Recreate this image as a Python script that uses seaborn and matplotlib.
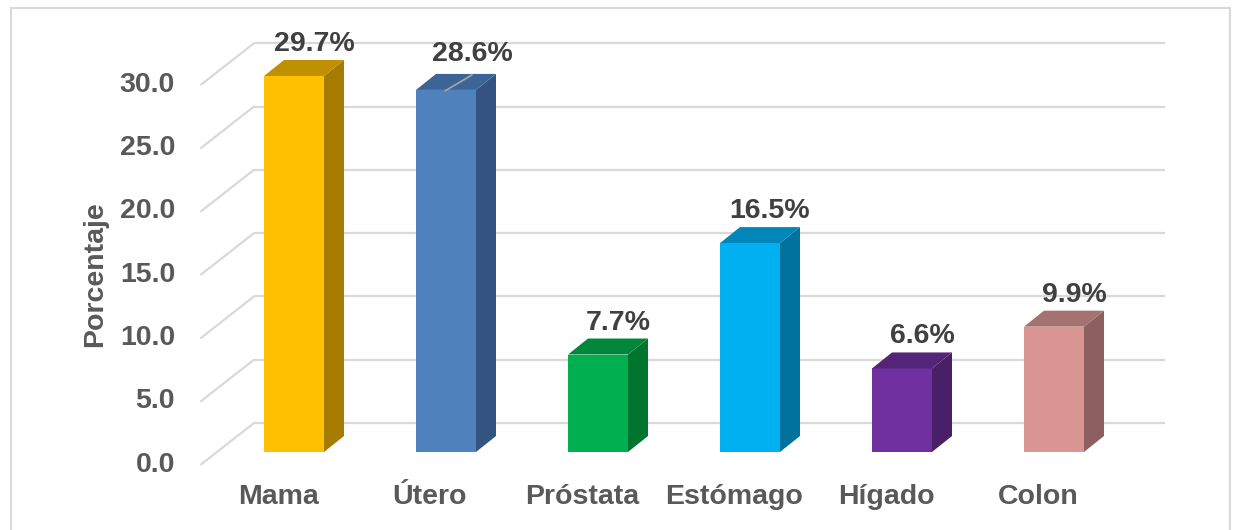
import matplotlib
matplotlib.use("Agg")
import matplotlib.pyplot as plt
from matplotlib.patches import Polygon, Rectangle
import seaborn as sns

# Cancer share by site (percent)
categories = ["Mama", "Útero", "Próstata", "Estómago", "Hígado", "Colon"]
values = [29.7, 28.6, 7.7, 16.5, 6.6, 9.9]
labels = ["29.7%", "28.6%", "7.7%", "16.5%", "6.6%", "9.9%"]
yticks = [0, 5, 10, 15, 20, 25, 30]
ytick_labels = ["0.0", "5.0", "10.0", "15.0", "20.0", "25.0", "30.0"]

front_colors = ["#FFC000", "#4F81BD", "#00B050", "#00B0F0", "#7030A0", "#D99594"]
side_colors = ["#A67C00", "#335480", "#007530", "#00729C", "#492068", "#8D605F"]
top_colors = ["#C09000", "#3C6496", "#00873A", "#0086B8", "#542479", "#A67270"]

W, H = 1234, 530
sns.set_theme(style="white")
plt.rcParams["font.family"] = ["Liberation Sans", "DejaVu Sans"]

fig = plt.figure(figsize=(W / 100, H / 100), dpi=100)
ax = fig.add_axes([0, 0, 1, 1])

# pixel layout of the bar front plane
x0_px, step_px = 294, 152
base_px, unit_px = 452, 12.66
ux = 1 / step_px      # data units per horizontal pixel
uy = 1 / unit_px      # data units per vertical pixel
ax.set_xlim(-x0_px / step_px, (W - x0_px) / step_px)
ax.set_ylim((base_px - H) / unit_px, base_px / unit_px)
ax.axis("off")

def px_x(px):
    return (px - x0_px) / step_px

grid_col = "#D9D9D9"
back_dx, back_dy = 0, 29          # back wall offset (px, up)
front_dx_left, back_left, back_right = 201, 254, 1165
front_dy = -12.5                  # front floor edge offset (px, up)

for v in yticks:
    yb = v + back_dy * uy
    yf = v + front_dy * uy
    ax.plot([px_x(back_left), px_x(back_right)], [yb, yb], color=grid_col, lw=1.6, zorder=0,
            solid_capstyle="butt")
    ax.plot([px_x(front_dx_left), px_x(back_left)], [yf, yb], color=grid_col, lw=1.6, zorder=0)

# front faces of the bars
sns.barplot(x=categories, y=values, hue=categories, palette=front_colors, legend=False,
            width=60 / step_px, saturation=1, ax=ax, zorder=3, linewidth=0)
ax.set_xlim(-x0_px / step_px, (W - x0_px) / step_px)
ax.set_ylim((base_px - H) / unit_px, base_px / unit_px)
ax.axis("off")

# depth faces (side + top)
ddx, ddy = 20 * ux, 16 * uy
for i, bar in enumerate(ax.patches[:len(values)]):
    xl = bar.get_x()
    xr = xl + bar.get_width()
    h = bar.get_height()
    side = Polygon([(xr, 0), (xr + ddx, ddy), (xr + ddx, h + ddy), (xr, h)],
                   closed=True, facecolor=side_colors[i], edgecolor="none", zorder=3)
    top = Polygon([(xl, h), (xr, h), (xr + ddx, h + ddy), (xl + ddx, h + ddy)],
                  closed=True, facecolor=top_colors[i], edgecolor="none", zorder=3)
    ax.add_patch(side)
    ax.add_patch(top)

# value labels
txt_kw = dict(fontsize=20.5, fontweight="bold")
for i, (v, lab) in enumerate(zip(values, labels)):
    nx, ny = 20, 3
    if categories[i] == "Útero":
        nx, ny = 26, 7
        ax.plot([i - 1 * ux, i + 26 * ux], [v - 1 * uy, v + 15 * uy], color="#A6A6A6",
                lw=1.2, zorder=4)
    ax.text(i + nx * ux, v + (16 + ny) * uy, lab, ha="center", va="bottom",
            color="#404040", zorder=5, **txt_kw)

# category labels on the front floor edge
for i, c in enumerate(categories):
    ax.text(i - 16 * ux, (base_px - 497) * uy, c, ha="center", va="center",
            color="#595959", **txt_kw)

# value axis labels
for v, t in zip(yticks, ytick_labels):
    ax.text(px_x(175), v + front_dy * uy, t, ha="right", va="center",
            color="#595959", **txt_kw)

ax.text(px_x(95), (base_px - 274) * uy, "Porcentaje", rotation=90, ha="center",
        va="center", color="#595959", **txt_kw)

# chart border
fig.patches.append(Rectangle((11 / W, -0.01), (1230 - 11) / W, (H - 8) / H + 0.01,
                             transform=fig.transFigure, fill=False,
                             edgecolor="#D9D9D9", lw=1.5))

fig.savefig("out.png", dpi=100)
